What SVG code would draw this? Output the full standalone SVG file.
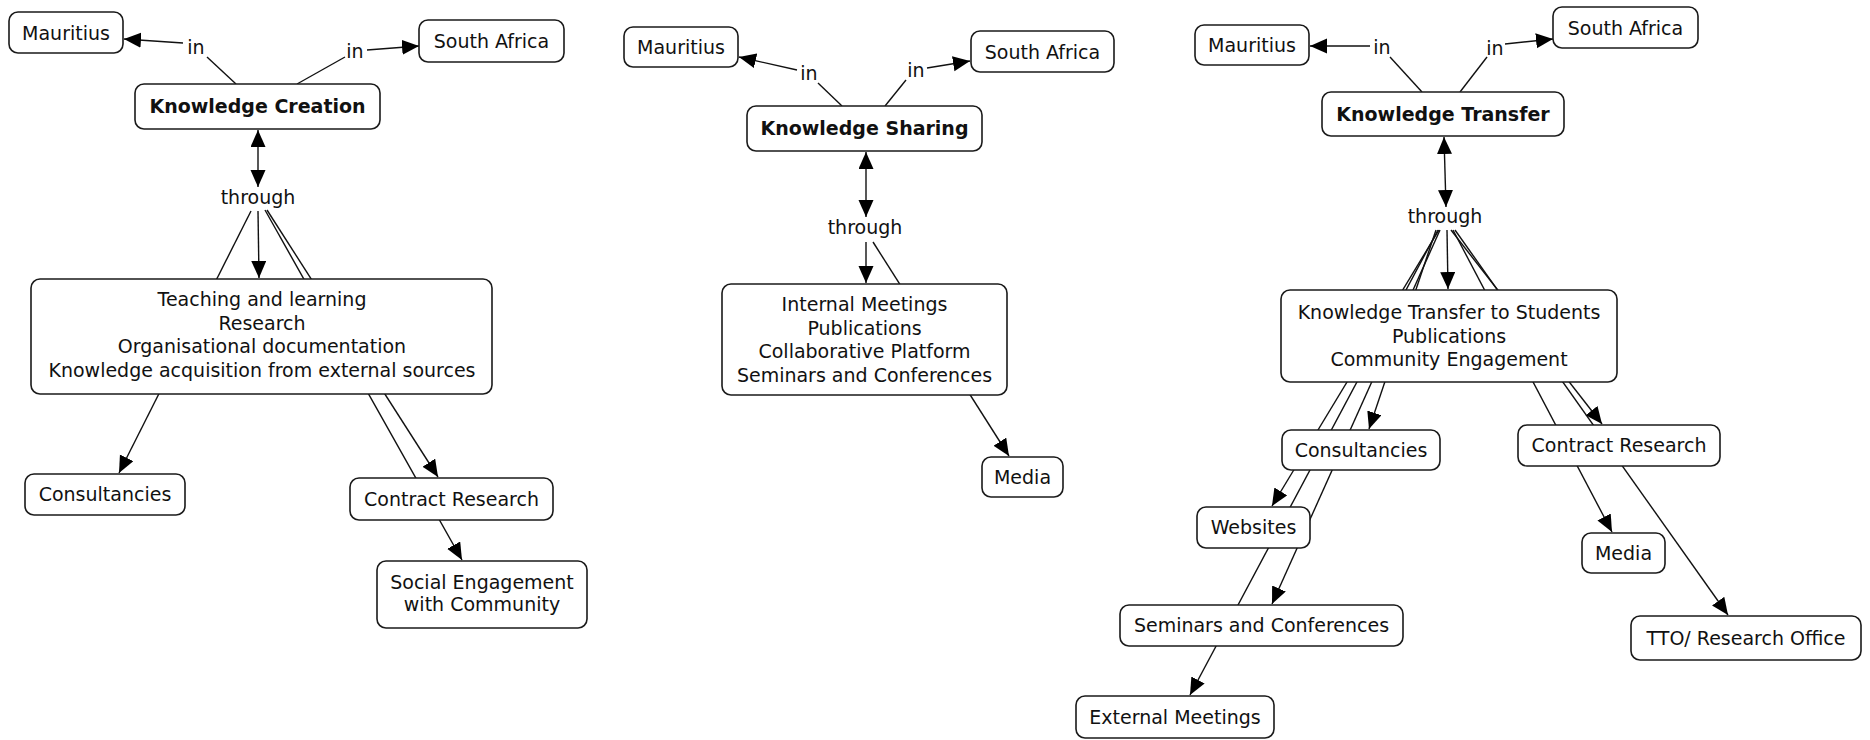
<svg xmlns="http://www.w3.org/2000/svg" width="1870" height="740" viewBox="0 0 1870 740">
<style>
.n rect{fill:#fff;stroke:#1a1a1a;stroke-width:1.6}
text{font-family:"DejaVu Sans","Verdana",sans-serif;font-size:19px;fill:#111;text-anchor:middle}
.b{font-weight:bold}
.c line{stroke:#111;stroke-width:1.4;fill:none}
.a{marker-end:url(#ah)}
.d{marker-end:url(#ah);marker-start:url(#ah)}
</style>
<defs>
<marker id="ah" markerUnits="userSpaceOnUse" markerWidth="18" markerHeight="16" refX="17" refY="7.5" orient="auto-start-reverse">
<path d="M0,0 L17,7.5 L0,15 z" fill="#000"/>
</marker>
</defs>
<rect width="1870" height="740" fill="#fff"/>
<g id="connectors" class="c">
<!-- left -->
<line x1="236" y1="84" x2="207" y2="57"/>
<line class="a" x1="183" y1="43" x2="124" y2="39"/>
<line x1="297" y1="84" x2="345" y2="57"/>
<line class="a" x1="367" y1="50" x2="419" y2="46"/>
<line class="d" x1="258" y1="130" x2="258" y2="187"/>
<line class="a" x1="251" y1="211" x2="119" y2="473"/>
<line class="a" x1="258" y1="211" x2="259" y2="278"/>
<line class="a" x1="267" y1="210" x2="438" y2="477"/>
<line class="a" x1="265" y1="210" x2="462" y2="560"/>
<!-- middle -->
<line x1="842" y1="106" x2="818" y2="83"/>
<line class="a" x1="797" y1="70" x2="739" y2="57"/>
<line x1="885" y1="106" x2="906" y2="80"/>
<line class="a" x1="927" y1="68" x2="970" y2="61"/>
<line class="d" x1="866" y1="152" x2="866" y2="217"/>
<line class="a" x1="866" y1="242" x2="866" y2="283"/>
<line class="a" x1="873" y1="242" x2="1009" y2="456"/>
<!-- right -->
<line x1="1422" y1="92" x2="1390" y2="57"/>
<line class="a" x1="1370" y1="46" x2="1310" y2="46"/>
<line x1="1460" y1="92" x2="1487" y2="57"/>
<line class="a" x1="1505" y1="44" x2="1553" y2="39"/>
<line class="d" x1="1444" y1="137" x2="1446" y2="207"/>
<line class="a" x1="1439" y1="230" x2="1272" y2="506"/>
<line class="a" x1="1438" y1="230" x2="1190" y2="695"/>
<line class="a" x1="1440" y1="230" x2="1272" y2="604"/>
<line class="a" x1="1436" y1="230" x2="1369" y2="429"/>
<line class="a" x1="1447" y1="230" x2="1448" y2="289"/>
<line class="a" x1="1453" y1="230" x2="1612" y2="532"/>
<line class="a" x1="1455" y1="230" x2="1728" y2="615"/>
<line class="a" x1="1451" y1="230" x2="1602" y2="424"/>
</g>
<!-- linking phrases -->
<g id="lp-l-in1"><text x="196" y="54">in</text></g>
<g id="lp-l-in2"><text x="355" y="58">in</text></g>
<g id="lp-l-through"><text x="258" y="204">through</text></g>
<g id="lp-m-in1"><text x="809" y="80">in</text></g>
<g id="lp-m-in2"><text x="916" y="77">in</text></g>
<g id="lp-m-through"><text x="865" y="234">through</text></g>
<g id="lp-r-in1"><text x="1382" y="54">in</text></g>
<g id="lp-r-in2"><text x="1495" y="55">in</text></g>
<g id="lp-r-through"><text x="1445" y="223">through</text></g>
<!-- left nodes -->
<g id="l-mauritius" class="n"><rect x="9" y="12" width="114" height="41" rx="9"/><text x="66" y="40">Mauritius</text></g>
<g id="l-southafrica" class="n"><rect x="419" y="20" width="145" height="42" rx="9"/><text x="491.5" y="48">South Africa</text></g>
<g id="l-creation" class="n"><rect x="135" y="84" width="245" height="45" rx="9"/><text class="b" x="257.5" y="113">Knowledge Creation</text></g>
<g id="l-teaching" class="n"><rect x="31" y="279" width="461" height="115" rx="9"/>
<text x="262" y="306">Teaching and learning</text>
<text x="262" y="329.5">Research</text>
<text x="262" y="353">Organisational documentation</text>
<text x="262" y="376.5">Knowledge acquisition from external sources</text></g>
<g id="l-consultancies" class="n"><rect x="25" y="474" width="160" height="41" rx="9"/><text x="105" y="501">Consultancies</text></g>
<g id="l-contract" class="n"><rect x="350" y="478" width="203" height="42" rx="9"/><text x="451.5" y="506">Contract Research</text></g>
<g id="l-social" class="n"><rect x="377" y="561" width="210" height="67" rx="9"/><text x="482" y="589">Social Engagement</text><text x="482" y="611">with Community</text></g>
<!-- middle nodes -->
<g id="m-mauritius" class="n"><rect x="624" y="27" width="114" height="40" rx="9"/><text x="681" y="54">Mauritius</text></g>
<g id="m-southafrica" class="n"><rect x="971" y="31" width="143" height="41" rx="9"/><text x="1042.5" y="58.5">South Africa</text></g>
<g id="m-sharing" class="n"><rect x="747" y="106" width="235" height="45" rx="9"/><text class="b" x="864.5" y="135">Knowledge Sharing</text></g>
<g id="m-list" class="n"><rect x="722" y="284" width="285" height="111" rx="9"/>
<text x="864.5" y="311">Internal Meetings</text>
<text x="864.5" y="334.5">Publications</text>
<text x="864.5" y="358">Collaborative Platform</text>
<text x="864.5" y="381.5">Seminars and Conferences</text></g>
<g id="m-media" class="n"><rect x="982" y="457" width="81" height="40" rx="9"/><text x="1022.5" y="484">Media</text></g>
<!-- right nodes -->
<g id="r-mauritius" class="n"><rect x="1195" y="25" width="114" height="40" rx="9"/><text x="1252" y="52">Mauritius</text></g>
<g id="r-southafrica" class="n"><rect x="1553" y="7" width="145" height="41" rx="9"/><text x="1625.5" y="34.5">South Africa</text></g>
<g id="r-transfer" class="n"><rect x="1322" y="92" width="242" height="44" rx="9"/><text class="b" x="1443" y="121">Knowledge Transfer</text></g>
<g id="r-list" class="n"><rect x="1281" y="290" width="336" height="92" rx="9"/>
<text x="1449" y="319">Knowledge Transfer to Students</text>
<text x="1449" y="342.5">Publications</text>
<text x="1449" y="366">Community Engagement</text></g>
<g id="r-consultancies" class="n"><rect x="1282" y="430" width="158" height="40" rx="9"/><text x="1361" y="457">Consultancies</text></g>
<g id="r-websites" class="n"><rect x="1197" y="507" width="113" height="41" rx="9"/><text x="1253.5" y="534">Websites</text></g>
<g id="r-seminars" class="n"><rect x="1120" y="605" width="283" height="41" rx="9"/><text x="1261.5" y="632">Seminars and Conferences</text></g>
<g id="r-external" class="n"><rect x="1076" y="696" width="198" height="42" rx="9"/><text x="1175" y="724">External Meetings</text></g>
<g id="r-contract" class="n"><rect x="1518" y="425" width="202" height="41" rx="9"/><text x="1619" y="452">Contract Research</text></g>
<g id="r-media" class="n"><rect x="1582" y="533" width="83" height="40" rx="9"/><text x="1623.5" y="560">Media</text></g>
<g id="r-tto" class="n"><rect x="1631" y="616" width="230" height="44" rx="9"/><text x="1746" y="645">TTO/ Research Office</text></g>
</svg>
